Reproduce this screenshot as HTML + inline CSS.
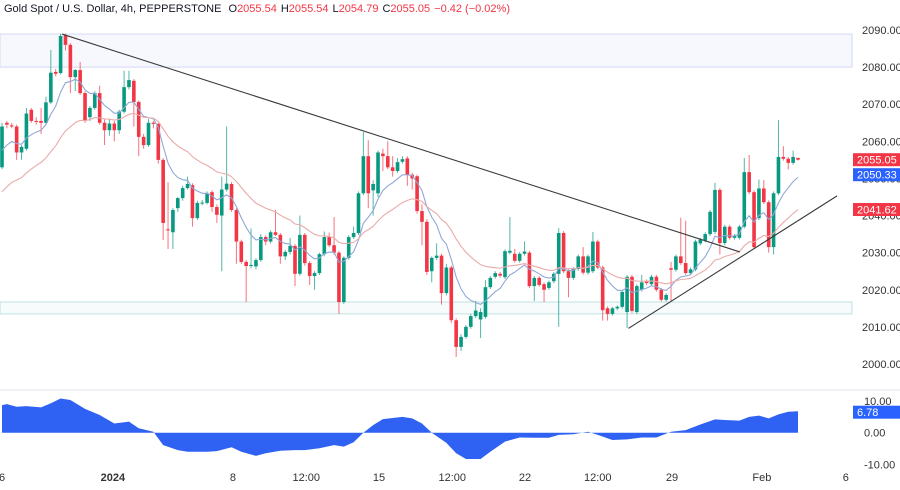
<!DOCTYPE html>
<html><head><meta charset="utf-8">
<style>
html,body{margin:0;padding:0;background:#fff;}
body{width:900px;height:485px;overflow:hidden;font-family:"Liberation Sans",sans-serif;}
svg text{font-family:"Liberation Sans",sans-serif;}
</style></head>
<body>
<svg id="chart" width="900" height="485" xmlns="http://www.w3.org/2000/svg">
  <text x="4" y="12" font-size="11" fill="#131722">Gold Spot / U.S. Dollar, 4h, PEPPERSTONE <tspan dx="4">O</tspan><tspan fill="#f23645">2055.54</tspan><tspan dx="4">H</tspan><tspan fill="#f23645">2055.54</tspan><tspan dx="4">L</tspan><tspan fill="#f23645">2054.79</tspan><tspan dx="4">C</tspan><tspan fill="#f23645">2055.05</tspan><tspan dx="4" fill="#f23645">−0.42 (−0.02%)</tspan></text>
  <g id="zones"></g>
  <g id="candles"></g>
  <g id="mas"></g>
  <g id="trend"></g>
  <line x1="0" y1="390" x2="900" y2="390" stroke="#e0e3eb" stroke-width="1"/>
  <g id="osc"></g>
  <g id="axes"></g>
</svg>
<script>
const candleData = [
[2053,2065,2052.5,2064],[2065,2065.5,2063.5,2064.5],[2064.3,2065,2063.5,2064],[2064,2064.5,2055,2057],[2057,2059,2055,2058.5],
[2058,2069,2057.5,2067.5],[2068.5,2069,2065,2065.5],[2065.5,2066.5,2064.5,2065.3],[2065.5,2069,2062,2065],[2065,2072,2064.5,2070.5],
[2070.5,2084.6,2070,2078.5],[2078.7,2079.5,2077.5,2078.2],[2078.4,2089,2078,2088.4],[2088.6,2089,2084.5,2086],[2086,2086.5,2073,2077.3],
[2077.3,2079.5,2073.5,2079.2],[2079.2,2081.4,2072.5,2073],[2073,2073.5,2065,2065.5],[2066.5,2069.5,2065.5,2069],[2069,2073.5,2068.5,2073],
[2073,2075,2064.5,2065],[2065,2066,2059,2063],[2063,2066,2061.5,2064.8],[2064.8,2065.5,2060,2063],[2063,2068.5,2062,2068],
[2068,2079,2067.5,2074.6],[2074.6,2079,2074,2076.5],[2076.3,2076.8,2064,2070.6],[2070.6,2071,2056,2061.2],[2061.2,2062,2058,2059],
[2059,2066,2058.5,2065],[2065,2065.5,2063.5,2064.7],[2064.7,2065,2054,2055],[2055,2055.5,2033.4,2038],[2036.3,2049,2031,2036],
[2035.5,2042,2031,2041.5],[2042,2045,2041,2044.7],[2044.7,2048,2044,2047.4],[2047.4,2050.5,2047,2048.5],[2048.2,2048.7,2037,2039.3],
[2039.3,2044,2038.8,2043.4],[2043.4,2044.2,2042.8,2043.5],[2043.4,2046.5,2043,2046],[2046.3,2046.8,2041,2042.3],[2042.3,2043,2038,2040.2],
[2040,2050.5,2025,2047],[2047,2064,2046.5,2048.6],[2048.5,2049,2041,2041.5],[2041.5,2042,2027,2033],[2033,2033.5,2027,2027.5],
[2027.5,2028,2016.7,2026.4],[2026.4,2036.5,2025.8,2026.7],[2026.3,2028.5,2025.5,2028],[2028,2035,2027.5,2034.2],[2034.2,2034.7,2032,2033],
[2033,2036,2032.5,2035.5],[2035.5,2041.5,2034.5,2034.8],[2034.8,2035.3,2027,2029],[2029,2030.7,2028,2030.2],[2030.2,2034,2029.5,2031.8],
[2031.8,2032.3,2021,2024.3],[2024.3,2040,2023.8,2034.8],[2034.8,2035.3,2026.5,2027.2],[2027.2,2027.7,2021.3,2023.7],[2023.7,2025,2020,2024.5],
[2024.5,2030,2024,2029.6],[2029.6,2035.7,2029,2034.2],[2034.2,2035.4,2031.5,2032],[2032,2039.6,2029.5,2030],[2030,2030.5,2013.5,2016.7],
[2016.7,2029,2016.2,2028.6],[2028.6,2034.7,2028.1,2034.2],[2034.2,2037,2033.7,2035.3],[2035.3,2046.5,2034.8,2046],[2046,2062.5,2045.5,2056],
[2056,2060.3,2042,2046],[2046.8,2049.5,2040,2048.5],[2046,2057.5,2045,2057],[2056.7,2058,2052,2056],[2056,2060,2052.5,2053],
[2053,2056,2050.5,2052],[2052,2055.5,2051.5,2054.4],[2054.5,2056,2054,2055.2],[2055.4,2056,2048,2051],[2051,2051.5,2047,2050],
[2050.6,2051,2040.5,2041.2],[2041.2,2043,2032,2038.3],[2038.3,2039,2024,2024.8],[2025,2029,2022,2028.6],[2028.6,2032.5,2028,2029.2],
[2029.2,2029.7,2016,2019.1],[2019.1,2027,2018.5,2026],[2026,2026.5,2011,2011.8],[2011.8,2012.3,2001.9,2004.6],[2004.6,2008,2003.5,2007.3],
[2007.3,2010.5,2006.8,2010],[2010,2013.5,2009.5,2012.9],[2012.9,2017,2012.4,2014.4],[2012,2015,2007,2014],[2012.7,2022.6,2012.2,2020.7],
[2020.7,2023.7,2020.2,2023.2],[2023.5,2025,2023,2024.5],[2024.3,2024.8,2023.3,2023.8],[2023.4,2030.9,2022.9,2030.4],[2030,2039.6,2029.5,2030.5],
[2029.7,2031,2027.3,2027.8],[2027.8,2030.2,2027.3,2029.7],[2029.7,2033,2029.2,2030.3],[2030,2030.5,2020.5,2021],[2021,2023.7,2017,2023.2],
[2023.2,2023.7,2020.8,2021.3],[2021.5,2022,2016.7,2020],[2020.5,2022.5,2020,2022],[2022.3,2024.8,2021.8,2024.3],[2024.3,2036.6,2010,2035.3],
[2035.3,2035.8,2024.5,2025],[2025,2025.5,2018,2023.2],[2023.2,2026.1,2022.7,2025.6],[2025.6,2029.5,2025.1,2029],[2029,2031.5,2024.1,2024.6],
[2024.6,2029.5,2024.1,2029],[2025,2035.6,2024.5,2033],[2033,2033.5,2025.5,2026],[2026,2026.5,2011.7,2014.5],[2015,2015.5,2011.7,2013.5],
[2013.5,2015.4,2013,2015],[2015,2015.8,2014.5,2015.4],[2015.4,2019.9,2014.9,2019.4],[2014,2024,2009.7,2023.5],[2023.5,2024,2013.8,2014.3],
[2014,2021.5,2013.5,2021],[2020,2024,2019.5,2022],[2022.3,2022.8,2021.3,2021.8],[2021.5,2024,2021,2023.5],[2023.5,2024,2019.5,2020],
[2020,2020.5,2016.8,2017.3],[2017.3,2019.1,2016.8,2018.6],[2025.8,2027.5,2017,2025.4],[2025.4,2029.5,2024.9,2029],[2029,2039.4,2026.7,2027.2],
[2027.2,2038.6,2024,2024.5],[2024.5,2026,2024,2025.5],[2025.5,2033.5,2025,2033],[2032.5,2034,2032,2033.5],[2033.3,2035.5,2032.8,2035],
[2035,2041.5,2034.5,2041],[2035.6,2048.8,2035,2046.9],[2046.9,2047.4,2029.5,2032.6],[2032.6,2037.5,2032,2037],[2037,2037.5,2033.5,2034],
[2034,2035,2033.5,2034.6],[2034,2037.5,2033.5,2037],[2037,2055.5,2036.5,2051.7],[2051.7,2056.3,2045.8,2046.3],[2046.3,2046.8,2031,2031.5],
[2039.3,2049.7,2038.8,2047.3],[2047.3,2049.6,2043.1,2043.6],[2043.6,2044.1,2030,2031.5],[2031.5,2046.5,2029.5,2046],[2046,2065.7,2045.5,2055.8],
[2055.8,2058.7,2054.8,2055.3],[2055.3,2055.8,2052.4,2054.2],[2054.2,2057.5,2053.7,2055.8],[2055.54,2055.54,2054.79,2055.05]
];
const priceTicks = [2090,2080,2070,2060,2050,2040,2030,2020,2010,2000];
const oscTicks = [10,0,-10];
const xLabelIdx = [0,22.7,47.3,62.3,77.2,92.2,107.1,122,137.2,155.6,172.8];
const xLabelText = ["6","2024","8","12:00","15","12:00","22","12:00","29","Feb","6"];
const oscIdx = [0,1,3,5,8,10,12,14,17,20,23,26,28,31,33,36,38,42,44,47,49,52,54,57,60,62,65,68,70,72,74,76,78,82,84,86,88,91,93,95,98,100,103,106,109,112,114,117,120,122,125,128,131,134,137,140,143,146,148,151,153,155,157,159,161,163];
const oscVal = [8.7,9.0,8.2,8.4,8.0,9.3,10.8,10.3,7.5,5.6,2.9,3.5,1.4,0.3,-3.9,-5.5,-6.0,-6.0,-5.8,-4.6,-6.0,-7.3,-6.5,-5.7,-5.5,-5.5,-4.9,-3.9,-4.4,-3.0,0,2.4,4.3,5.0,4.5,2.9,0,-3.2,-6.5,-8.3,-8.3,-6.0,-2.8,-1.5,-1.6,-1.6,-0.7,-0.5,0.3,-0.7,-2.3,-2.1,-1.5,-1.5,0.3,0.8,2.6,4.2,4.0,3.8,5.0,5.4,4.5,5.8,6.6,6.78];
const zoneTop = [2088.9,2080.0];
const zoneBottom = [2016.7,2013.5];
const trendDown = [[12.3,2088.9],[151.1,2030.2]];
const trendUp = [[128.3,2009.6],[171,2045.3]];
const maFastSeed = 2056, maSlowSeed = 2045;

const NS="http://www.w3.org/2000/svg";
const N=candleData.length;
const step=796/163;
function xOf(i){return 2+i*step;}
function yOf(p){return 30+(2090-p)*3.711;}
function yOsc(v){return 432.7-v*3.17;}
function mk(tag,attrs,parent){const e=document.createElementNS(NS,tag);for(const k in attrs)e.setAttribute(k,attrs[k]);parent.appendChild(e);return e;}

const zg=document.getElementById('zones');
let z1=mk('rect',{x:0,y:yOf(zoneTop[0]),width:852,height:yOf(zoneTop[1])-yOf(zoneTop[0]),fill:'#f7f8fe',stroke:'#d3d8ef','stroke-width':1},zg);


let z2=mk('rect',{x:0,y:yOf(zoneBottom[0]),width:852,height:yOf(zoneBottom[1])-yOf(zoneBottom[0]),fill:'#f7fbfc',stroke:'#bfe2df','stroke-width':1},zg);



const cg=document.getElementById('candles');
candleData.forEach((c,i)=>{
  const [o,h,l,cl]=c; const up=cl>=o; const col=up?'#089981':'#f23645';
  const x=xOf(i);
  const g=mk('g',{},cg);
  
  
  mk('line',{x1:x,x2:x,y1:yOf(h),y2:yOf(l),stroke:col,'stroke-width':1,opacity:0.7},g);
  const y1=yOf(Math.max(o,cl)),y2=yOf(Math.min(o,cl));
  mk('rect',{x:x-1.8,y:y1,width:3.6,height:Math.max(1,y2-y1),fill:col},g);
});

function ema(period,seed){const k=2/(period+1);let v=seed;return candleData.map(c=>{v=c[3]*k+v*(1-k);return v;});}
const mg=document.getElementById('mas');
const fast=ema(9,maFastSeed), slow=ema(26,maSlowSeed);
let pf=mk('polyline',{points:fast.map((v,i)=>xOf(i)+','+yOf(v)).join(' '),fill:'none',stroke:'#8fa8d6','stroke-width':1.1},mg);


let ps=mk('polyline',{points:slow.map((v,i)=>xOf(i)+','+yOf(v)).join(' '),fill:'none',stroke:'#eaaaaa','stroke-width':1.1},mg);



const tg=document.getElementById('trend');
let td=mk('line',{x1:xOf(trendDown[0][0]),y1:yOf(trendDown[0][1]),x2:xOf(trendDown[1][0]),y2:yOf(trendDown[1][1]),stroke:'#3a3a3a','stroke-width':1.1},tg);


let tu=mk('line',{x1:xOf(trendUp[0][0]),y1:yOf(trendUp[0][1]),x2:xOf(trendUp[1][0]),y2:yOf(trendUp[1][1]),stroke:'#3a3a3a','stroke-width':1.1},tg);



const og=document.getElementById('osc');
let pts=oscIdx.map((ix,k)=>xOf(ix)+','+yOsc(oscVal[k]));
pts.unshift(xOf(oscIdx[0])+','+yOsc(0));
pts.push(xOf(oscIdx[oscIdx.length-1])+','+yOsc(0));
let oa=mk('polygon',{points:pts.join(' '),fill:'#2f62f2'},og);



const ag=document.getElementById('axes');
priceTicks.forEach(p=>{
  const t=mk('text',{x:862,y:yOf(p)+4,'font-size':11,fill:'#333'},ag);
  t.textContent=p.toFixed(2);
  
  
});
oscTicks.forEach(v=>{
  const t=mk('text',{x:864,y:yOsc(v)+4,'font-size':11,fill:'#333'},ag);
  t.textContent=v.toFixed(2);
  
  
});
xLabelIdx.forEach((ix,k)=>{
  const t=mk('text',{x:xOf(ix),y:481,'font-size':11,fill:'#333','text-anchor':'middle'},ag);
  if(xLabelText[k]==='2024')t.setAttribute('font-weight','bold');
  t.textContent=xLabelText[k];
  
  
});
function badge(color,name,yc,txt){
  const g=mk('g',{},ag);
  
  
  mk('rect',{x:853,y:yc-6.5,width:47,height:13,fill:color},g);
  const t=mk('text',{x:857,y:yc+4,'font-size':11,fill:'#fff'},g);
  t.textContent=txt;
}
const lastClose=candleData[N-1][3];
badge('#f23645','last-price-badge',yOf(lastClose),lastClose.toFixed(2));
badge('#2962ff','fast-ma-badge',yOf(lastClose)+15,fast[N-1].toFixed(2));
badge('#f23645','slow-ma-badge',Math.max(yOf(slow[N-1]),yOf(lastClose)+30),slow[N-1].toFixed(2));
const lastOsc=oscVal[oscVal.length-1];
badge('#2962ff','oscillator-value-badge',yOsc(lastOsc)+1,lastOsc.toFixed(2));
</script>
</body></html>
